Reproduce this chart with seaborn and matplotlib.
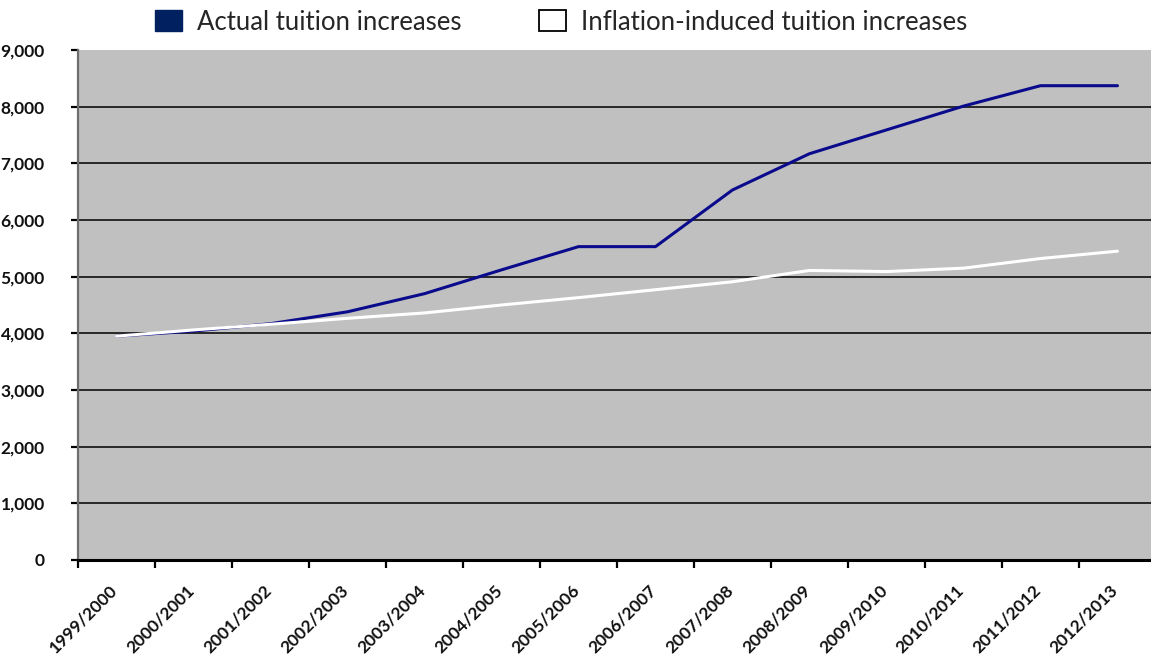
import numpy as np
import pandas as pd
import matplotlib
matplotlib.use("Agg")
import matplotlib.pyplot as plt
import seaborn as sns
from matplotlib.patches import Patch
from matplotlib.ticker import FixedLocator, FuncFormatter
from matplotlib.transforms import ScaledTranslation

# Academic years on the category axis
years = ["1999/2000", "2000/2001", "2001/2002", "2002/2003", "2003/2004",
         "2004/2005", "2005/2006", "2006/2007", "2007/2008", "2008/2009",
         "2009/2010", "2010/2011", "2011/2012", "2012/2013"]

# Tuition (in dollars) per year
actual = [3950, 4040, 4170, 4380, 4700, 5120, 5530, 5530, 6530, 7170,
          7590, 8010, 8370, 8370]
inflation = [3950, 4060, 4160, 4265, 4360, 4500, 4630, 4770, 4910, 5110,
             5090, 5150, 5320, 5450]

series_names = ["Actual tuition increases", "Inflation-induced tuition increases"]
y_ticks = [0, 1000, 2000, 3000, 4000, 5000, 6000, 7000, 8000, 9000]

sns.set_theme(style="white")
plt.rcParams["font.family"] = ["Lato", "DejaVu Sans"]

W, H = 1151, 663
fig = plt.figure(figsize=(W / 100, H / 100), dpi=100)
ax = fig.add_axes([78 / W, 103 / H, 1078 / W, 510 / H])
ax.set_facecolor("#C0C0C0")

df = pd.DataFrame({
    "year": years * 2,
    "value": actual + inflation,
    "series": [series_names[0]] * len(years) + [series_names[1]] * len(years),
})
sns.lineplot(data=df, x="year", y="value", hue="series",
             palette=["#0A0A8C", "#FFFFFF"], linewidth=2.2, sort=False,
             legend=False, ax=ax, zorder=3)

# Axes ranges and ticks
ax.set_xlim(-0.5, len(years) - 0.5)
ax.set_ylim(0, 9000)
ax.yaxis.set_major_locator(FixedLocator(y_ticks))
ax.yaxis.set_major_formatter(FuncFormatter(lambda v, p: f"{int(v):,}"))
ax.set_xticks(range(len(years)))
ax.set_xticklabels(years)
ax.xaxis.set_minor_locator(FixedLocator(np.arange(-0.5, len(years), 1.0)))
ax.set_xlabel("")
ax.set_ylabel("")

ax.yaxis.grid(True, color="black", linewidth=1.1, zorder=1)
ax.get_ygridlines()[-1].set_visible(False)
ax.set_axisbelow(True)

for s in ["top", "right"]:
    ax.spines[s].set_visible(False)
ax.spines["left"].set_color("#6E6E6E")
ax.spines["left"].set_linewidth(1.6)
ax.spines["bottom"].set_color("black")
ax.spines["bottom"].set_linewidth(2.2)

ax.tick_params(axis="x", which="major", length=0, pad=20)
ax.tick_params(axis="x", which="minor", bottom=True, length=6, width=1.6,
               color="black", direction="out")
ax.tick_params(axis="y", which="major", left=True, length=5, width=1.6,
               color="black", direction="out", pad=19)

for lab in ax.get_xticklabels():
    lab.set_rotation(45)
    lab.set_ha("right")
    lab.set_va("center")
    lab.set_rotation_mode("anchor")
    lab.set_fontsize(12.5)
    lab.set_fontweight("bold")
    lab.set_color("#111111")
    lab.set_transform(lab.get_transform() + ScaledTranslation(-2 / 100, 0, fig.dpi_scale_trans))
for lab in ax.get_yticklabels():
    lab.set_fontsize(12.5)
    lab.set_fontweight("bold")
    lab.set_color("#111111")

# Legend across the top
handles = [Patch(facecolor="#002060", edgecolor="#002060"),
           Patch(facecolor="white", edgecolor="black", linewidth=1.3)]
fig.legend(handles, series_names, loc="center left",
           bbox_to_anchor=(155 / W, 1 - 22 / H), ncol=2, frameon=False,
           fontsize=18.5, handlelength=1.05, handleheight=0.9,
           handletextpad=0.6, columnspacing=3.0, borderpad=0,
           borderaxespad=0)

fig.savefig("out.png", dpi=100)
